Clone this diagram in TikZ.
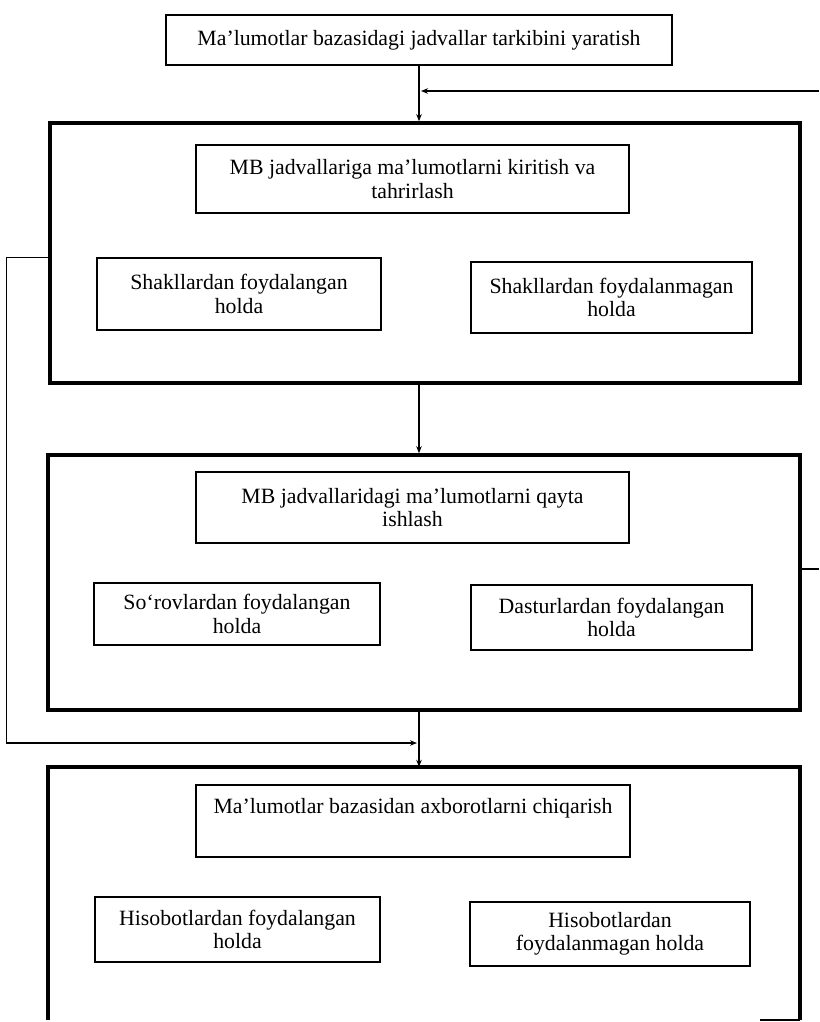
\documentclass[tikz,border=0pt]{standalone}
\usepackage{fontspec}
\setmainfont{Liberation Serif}
\usetikzlibrary{arrows.meta}
\newcommand\fsz{\fontsize{21.8}{23.5}\selectfont}
\tikzset{
  thinbox/.style={draw, line width=1.3pt, inner sep=0pt, align=center, font=\fsz},
  thickbox/.style={draw, line width=3.6pt, inner sep=0pt},
  openbox/.style={inner sep=0pt},
  conn/.style={line width=1.3pt},
  arr/.style={line width=1.3pt, -{Stealth[length=7pt,width=5.5pt]}}
}
\begin{document}
\begin{tikzpicture}[x=1pt,y=-1pt]
\useasboundingbox (0,0) rectangle (819,1022);
% top box
\node[thinbox, minimum width=506, minimum height=50] (top) at (419,40)
  {Ma’lumotlar bazasidagi jadvallar tarkibini yaratish};
% block 1
\node[thickbox, minimum width=750, minimum height=260] (box1) at (425,253) {};
\node[thinbox, minimum width=433, minimum height=68] (in1) at (412.5,179)
  {MB jadvallariga ma’lumotlarni kiritish va\\tahrirlash};
\node[thinbox, minimum width=284, minimum height=72] (s1a) at (239,294)
  {Shakllardan foydalangan\\holda};
\node[thinbox, minimum width=281, minimum height=71] (s1b) at (611.5,297.5)
  {Shakllardan foydalanmagan\\holda};
% block 2
\node[thickbox, minimum width=752, minimum height=255] (box2) at (424,582.5) {};
\node[thinbox, minimum width=433, minimum height=71] (in2) at (412.5,507.5)
  {MB jadvallaridagi ma’lumotlarni qayta\\ishlash};
\node[thinbox, minimum width=286, minimum height=62] (s2a) at (237,614)
  {So‘rovlardan foydalangan\\holda};
\node[thinbox, minimum width=281, minimum height=65] (s2b) at (611.5,617.5)
  {Dasturlardan foydalangan\\holda};
% block 3 (open at the bottom)
\node[openbox, minimum width=752, minimum height=253] (box3) at (424,893.5) {};
\draw[line width=3.6pt] (box3.south west) -- (box3.north west) -- (box3.north east) -- (box3.south east);
\draw[line width=2pt] ([xshift=-40pt]box3.south east) -- (box3.south east);
\node[thinbox, minimum width=434, minimum height=72] (in3) at (413,821)
  {Ma’lumotlar bazasidan axborotlarni chiqarish\\[0pt]\strut};
\node[thinbox, minimum width=285, minimum height=65] (s3a) at (237.5,929.5)
  {Hisobotlardan foydalangan\\holda};
\node[thinbox, minimum width=280, minimum height=64] (s3b) at (610,934)
  {Hisobotlardan\\foydalanmagan holda};
% connectors
\coordinate (rin) at (819,91);
\coordinate (rout) at (819,569);
\coordinate (m3) at (417,743);
\draw[arr] (top.south) -- (top.south |- box1.north);
\draw[arr] (rin) -- ([xshift=2pt]top.south |- rin);
\draw[arr] (top.south |- box1.south) -- (top.south |- box2.north);
\draw[arr] (top.south |- box2.south) -- (top.south |- box3.north);
\draw[arr] (box1.west |- s1a.north) -- ++(-42,0) |- (m3);
\draw[conn] (box2.east |- rout) -- (rout);
\end{tikzpicture}
\end{document}
